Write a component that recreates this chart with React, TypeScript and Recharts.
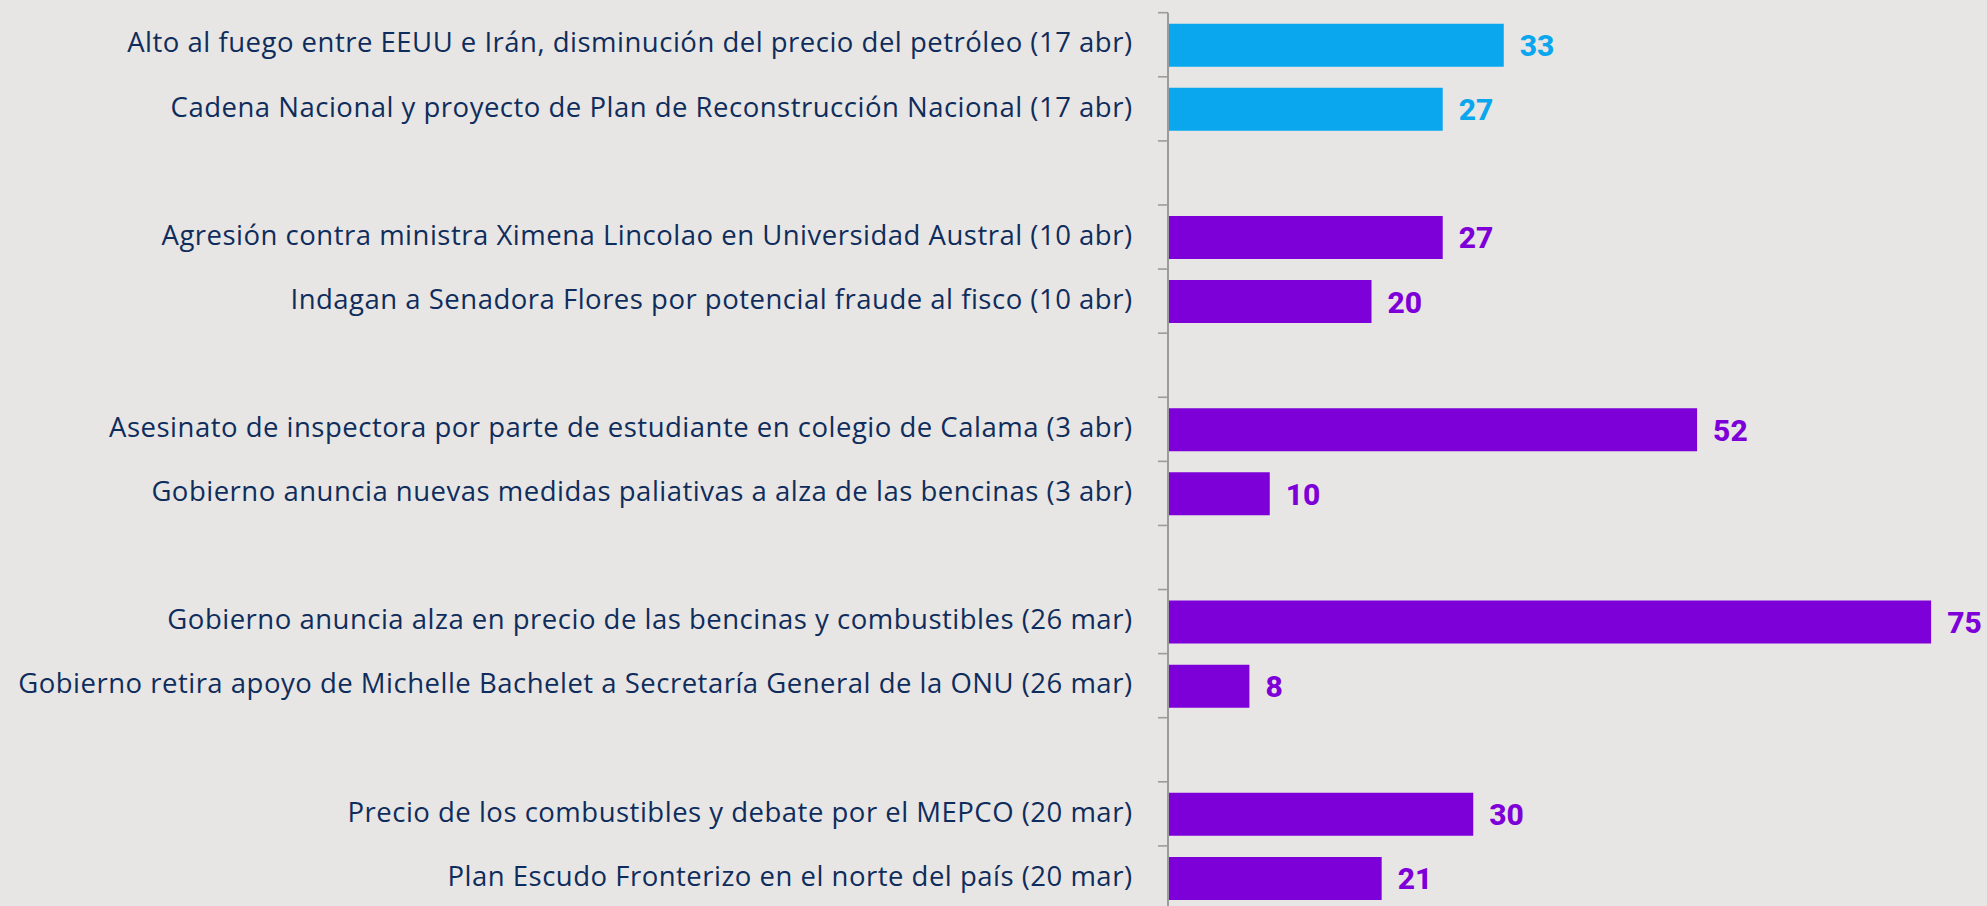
import React from 'react';
import { BarChart, Bar, XAxis, YAxis, Cell, LabelList } from 'recharts';

// Rows from top to bottom; empty strings are spacer rows between weeks
const categories: string[] = [
  'Alto al fuego entre EEUU e Irán, disminución del precio del petróleo (17 abr)',
  'Cadena Nacional y proyecto de Plan de Reconstrucción Nacional (17 abr)',
  '',
  'Agresión contra ministra Ximena Lincolao en Universidad Austral (10 abr)',
  'Indagan a Senadora Flores por potencial fraude al fisco (10 abr)',
  '',
  'Asesinato de inspectora por parte de estudiante en colegio de Calama (3 abr)',
  'Gobierno anuncia nuevas medidas paliativas a alza de las bencinas (3 abr)',
  '',
  'Gobierno anuncia alza en precio de las bencinas y combustibles (26 mar)',
  'Gobierno retira apoyo de Michelle Bachelet a Secretaría General de la ONU (26 mar)',
  '',
  'Precio de los combustibles y debate por el MEPCO (20 mar)',
  'Plan Escudo Fronterizo en el norte del país (20 mar)',
];

const values: (number | null)[] = [33, 27, null, 27, 20, null, 52, 10, null, 75, 8, null, 30, 21];

const weeks: string[] = ['17 abr', '17 abr', '', '10 abr', '10 abr', '', '3 abr', '3 abr', '', '26 mar', '26 mar', '', '20 mar', '20 mar'];

const LATEST_WEEK = '17 abr';
const BLUE = '#0AA6EE';
const PURPLE = '#7E00D8';
const TEXT = '#0F2D5C';
const AXIS = '#9C9C9C';
const BG = '#E8E6E4';

const W = 1987;
const H = 910;
const MARGIN = { top: 12.7, right: 5, bottom: 0, left: 0 };
const AXIS_W = 1168;

const colorOf = (i: number) => (weeks[i] === LATEST_WEEK ? BLUE : PURPLE);

const data = categories.map((c, i) => ({ key: String(i), label: c, value: values[i] }));

const BAND = (H - MARGIN.top - MARGIN.bottom) / categories.length;

const CategoryTick = (props: any) => {
  const { x, y, payload } = props;
  const idx = payload.index ?? Number(payload.value);
  const half = payload.offset ? payload.offset : BAND / 2;
  const label = categories[idx] || '';
  return (
    <g>
      <line x1={x - 10} x2={x} y1={y - half} y2={y - half} stroke={AXIS} strokeWidth={1.6} />
      {idx === categories.length - 1 && (
        <line x1={x - 10} x2={x} y1={y + half} y2={y + half} stroke={AXIS} strokeWidth={1.6} />
      )}
      {label && (
        <text
          x={x - 35.5}
          y={y}
          dy={7.7}
          textAnchor="end"
          fill={TEXT}
          fontFamily="'Open Sans', sans-serif"
          fontSize={27.5}
          letterSpacing={0.5}
        >
          {label}
        </text>
      )}
    </g>
  );
};

const ValueLabel = (props: any) => {
  const { x, y, width, height, value, index } = props;
  if (value === null || value === undefined) return null;
  return (
    <text
      x={x + width + 16}
      y={y + height / 2}
      dy={11}
      textAnchor="start"
      fill={colorOf(index)}
      fontFamily="Roboto, sans-serif"
      fontWeight={800}
      fontSize={30}
    >
      {value}
    </text>
  );
};

export default function App() {
  return (
    <div
      style={{
        position: 'absolute',
        left: 0,
        top: 0,
        width: W,
        height: 906,
        overflow: 'hidden',
        background: BG,
      }}
    >
      <BarChart width={W} height={H} data={data} layout="vertical" margin={MARGIN} barSize={43}>
        <XAxis type="number" domain={[0, 80]} hide />
        <YAxis
          type="category"
          dataKey="key"
          width={AXIS_W}
          axisLine={{ stroke: AXIS, strokeWidth: 2 }}
          tickLine={false}
          tickSize={0}
          tickMargin={0}
          interval={0}
          tick={<CategoryTick />}
        />
        <Bar dataKey="value" isAnimationActive={false}>
          {data.map((d, i) => (
            <Cell key={d.key} fill={colorOf(i)} />
          ))}
          <LabelList dataKey="value" content={<ValueLabel />} />
        </Bar>
      </BarChart>
    </div>
  );
}
